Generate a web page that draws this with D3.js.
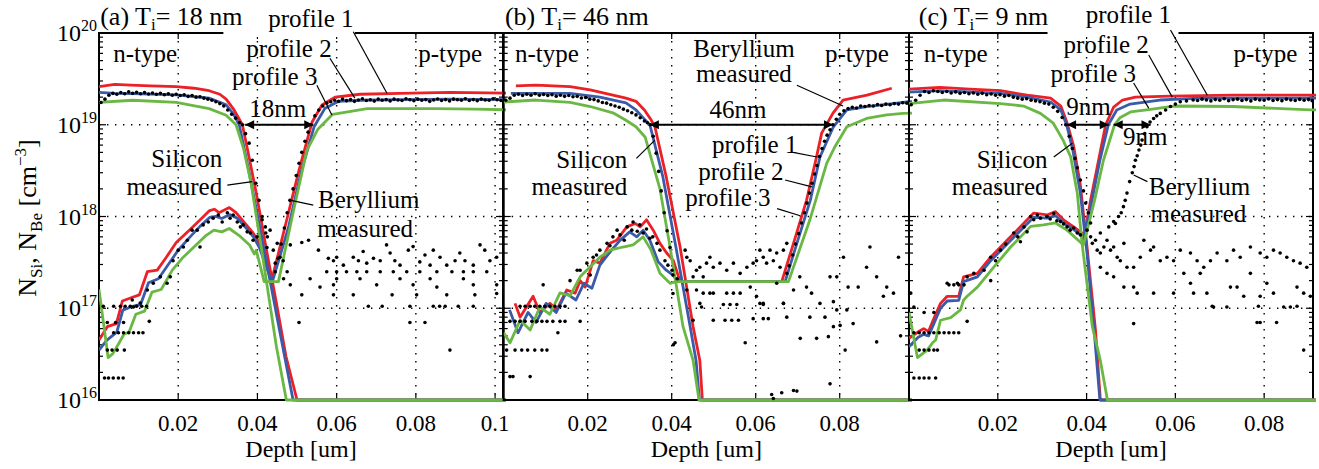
<!DOCTYPE html>
<html>
<head>
<meta charset="utf-8">
<script src="https://cdn.jsdelivr.net/npm/d3@7"></script>
<style>
  body { margin: 0; background: #fff; }
  text { font-family: "Liberation Serif", "Times New Roman", serif; fill: #000; }
</style>
</head>
<body>
<svg id="chart" width="1319" height="469" font-family="Liberation Serif, serif"></svg>
<script>
// ---------- axes ----------
const yTicks = [1e16, 1e17, 1e18, 1e19, 1e20];
const yTickExp = ["16", "17", "18", "19", "20"];
const xTicksA = [0.02, 0.04, 0.06, 0.08, 0.1];
const xTickLabelsA = ["0.02", "0.04", "0.06", "0.08", "0.1"];
const xTicksB = [0.02, 0.04, 0.06, 0.08];
const xTickLabelsB = ["0.02", "0.04", "0.06", "0.08"];
const xTicksC = [0.02, 0.04, 0.06, 0.08];
const xTickLabelsC = ["0.02", "0.04", "0.06", "0.08"];
const xMaxA = 0.102, xMaxB = 0.0965, xMaxC = 0.091;

// ---------- panel (a) Ti = 18 nm ----------
const siRedA = [[0,2.6e19],[0.004,2.75e19],[0.008,2.7e19],[0.013,2.65e19],[0.0195,2.6e19],[0.024,2.5e19],[0.0278,2.35e19],[0.0305,2.15e19],[0.0321,1.9e19],[0.0341,1.45e19],[0.0362,1e19],[0.038,4.2e18],[0.0397,1.8e18],[0.0422,4.5e17],[0.0447,1.2e17],[0.0472,3e16],[0.05,1e16],[0.105,1e16]];
const siBlueA = [[0,2.25e19],[0.004,2.2e19],[0.0085,2.18e19],[0.0195,2.12e19],[0.0278,1.95e19],[0.0321,1.65e19],[0.034,1.3e19],[0.0354,1e19],[0.0378,3.2e18],[0.0405,8e17],[0.043,2.2e17],[0.0455,6e16],[0.049,1e16],[0.105,1e16]];
const siGreenA = [[0,1.75e19],[0.0085,1.85e19],[0.0195,1.75e19],[0.0278,1.5e19],[0.0321,1.27e19],[0.0346,1e19],[0.0365,5.5e18],[0.0384,2.3e18],[0.041,4.5e17],[0.0448,3.8e16],[0.0473,1e16],[0.105,1e16]];
const beRedA = [[0,4.5e16],[0.0021,6.3e16],[0.0044,6.8e16],[0.0059,1.2e17],[0.0081,1.3e17],[0.0102,1.4e17],[0.0122,2.5e17],[0.0147,2.6e17],[0.017,3.6e17],[0.0195,5.2e17],[0.0228,7.1e17],[0.0253,9e17],[0.0278,1.15e18],[0.0291,1.2e18],[0.0303,1.1e18],[0.0329,1.25e18],[0.0346,1.1e18],[0.0372,8.1e17],[0.0387,6.8e17],[0.0404,5.3e17],[0.0437,2.1e17],[0.0472,8.5e17],[0.0505,3.2e18],[0.0538,1.07e19],[0.0563,1.64e19],[0.0596,2e19],[0.0659,2.15e19],[0.076,2.2e19],[0.0886,2.25e19],[0.105,2.2e19]];
const beBlueA = [[0,3.5e16],[0.002,4.5e16],[0.0045,5.5e16],[0.006,9.5e16],[0.0085,1.05e17],[0.0105,1.1e17],[0.0125,1.9e17],[0.015,2.1e17],[0.0175,3e17],[0.02,4.3e17],[0.023,6e17],[0.0255,7.8e17],[0.028,9.8e17],[0.0295,1e18],[0.031,9.5e17],[0.033,1.05e18],[0.035,9.5e17],[0.0375,7.2e17],[0.039,6e17],[0.0405,4.6e17],[0.0437,1.9e17],[0.0478,7.5e17],[0.051,3e18],[0.0543,9.5e18],[0.057,1.5e19],[0.0605,1.8e19],[0.066,1.85e19],[0.076,1.88e19],[0.089,1.9e19],[0.105,1.88e19]];
const beGreenA = [[0,1.6e17],[0.0023,2.9e16],[0.0035,3.2e16],[0.0051,4.2e16],[0.0063,5.2e16],[0.0076,5.5e16],[0.0093,8.6e16],[0.0115,9.3e16],[0.0134,1.5e17],[0.0157,1.6e17],[0.0185,2.6e17],[0.021,3.5e17],[0.0245,4.9e17],[0.027,6.2e17],[0.029,7.1e17],[0.031,6.8e17],[0.0329,7.4e17],[0.0354,6.2e17],[0.038,4.9e17],[0.0392,3.9e17],[0.0397,4.3e17],[0.0417,1.95e17],[0.0453,1.95e17],[0.049,1.1e18],[0.0525,5.3e18],[0.0553,9e18],[0.059,1.3e19],[0.0677,1.5e19],[0.085,1.5e19],[0.095,1.48e19],[0.105,1.45e19]];
const siMeasA = [[0.0005,1.75e19],[0.0015,1.9e19],[0.0025,2.1e19],[0.0035,2.2e19],[0.0045,2.15e19],[0.0055,2.25e19],[0.0065,2.18e19],[0.0075,2.28e19],[0.0085,2.2e19],[0.0095,2.26e19],[0.0105,2.18e19],[0.0115,2.24e19],[0.0125,2.16e19],[0.0135,2.22e19],[0.0145,2.15e19],[0.0155,2.2e19],[0.0165,2.12e19],[0.0175,2.18e19],[0.0185,2.1e19],[0.0195,2.15e19],[0.0205,2.08e19],[0.0215,2.12e19],[0.0225,2.04e19],[0.0235,2.08e19],[0.0245,2e19],[0.0255,2.02e19],[0.0265,1.95e19],[0.0275,1.9e19],[0.0285,1.85e19],[0.0295,1.78e19],[0.0305,1.7e19],[0.0315,1.6e19],[0.0325,1.45e19],[0.0335,1.3e19],[0.0345,1.18e19],[0.0355,1.06e19],[0.0362,1e19],[0.037,8e18],[0.0379,6.3e18],[0.0387,4.1e18],[0.0396,2.3e18],[0.0404,1.5e18],[0.0412,9.2e17],[0.0421,6.6e17],[0.0424,4.6e17]];
const beMeasA = [[0.0014,1.74e16],[0.0024,1.74e16],[0.0036,1.74e16],[0.0049,1.74e16],[0.0061,1.74e16],
  [0.0021,3.5e16],[0.0033,3.5e16],[0.0046,3.5e16],[0.0064,3.5e16],
  [0.0037,5.4e16],[0.0049,5.4e16],[0.0062,5.4e16],[0.0075,5.4e16],[0.0087,5.4e16],[0.01,5.4e16],[0.0111,5.4e16],
  [0.0021,7e16],[0.0042,7e16],[0.0062,7e16],[0.0127,7.2e16],
  [0.0011,1.05e17],[0.0037,1.05e17],[0.0054,1.05e17],[0.0066,1.05e17],[0.0079,1.05e17],[0.0095,1.05e17],[0.0108,1.05e17],[0.012,1.05e17],
  [0.0084,1.23e17],[0.0087,1.03e17],[0.0104,1.14e17],[0.0122,1.58e17],[0.0137,1.87e17],[0.0155,2.2e17],[0.0172,1.87e17],[0.018,2.2e17],[0.0187,3.3e17],[0.02,4.3e17],[0.0213,4.65e17],[0.0223,5.5e17],[0.0235,7.1e17],[0.0248,7.1e17],[0.0255,4.65e17],[0.0263,8.1e17],[0.0276,8.7e17],[0.0288,9.6e17],[0.0301,1.04e18],[0.0311,8.7e17],[0.0324,1.1e18],[0.0331,9.6e17],[0.0339,1.04e18],[0.0349,8.7e17],[0.0357,7.7e17],[0.0364,8.1e17],[0.0374,6.8e17],[0.0382,6.6e17],[0.0389,5.5e17],[0.0399,6e17],[0.0412,1e18],[0.042,7.7e17],[0.0425,6e17],[0.0432,7.1e17],[0.044,4.3e17],[0.0445,3.1e17],[0.045,5.1e17],[0.0457,3.6e17],[0.0465,3.3e17],
  [0.0445,2.5e17],[0.0452,3.5e17],[0.046,5e17],[0.0468,7.5e17],[0.0475,1.1e18],[0.0482,1.5e18],[0.049,2e18],[0.0498,2.8e18],[0.0505,3.8e18],[0.0512,5e18],[0.052,6.6e18],[0.0528,8.3e18],[0.0535,1e19],[0.0545,1.25e19],[0.0555,1.45e19],[0.0565,1.6e19],[0.0575,1.72e19],
  [0.0585,1.78e19],[0.0595,1.85e19],[0.0605,1.8e19],[0.0615,1.9e19],[0.0625,1.83e19],[0.0635,1.88e19],[0.0645,1.8e19],[0.0655,1.86e19],[0.0665,1.92e19],[0.0675,1.84e19],[0.0685,1.87e19],[0.0695,1.81e19],[0.0705,1.9e19],[0.0715,1.85e19],[0.0725,1.88e19],[0.0735,1.82e19],[0.0745,1.9e19],[0.0755,1.86e19],[0.0765,1.84e19],[0.0775,1.92e19],[0.0785,1.87e19],[0.0795,1.83e19],[0.0805,1.9e19],[0.0815,1.85e19],[0.0825,1.88e19],[0.0835,1.8e19],[0.0845,1.86e19],[0.0855,1.91e19],[0.0865,1.84e19],[0.0875,1.88e19],[0.0885,1.82e19],[0.0895,1.9e19],[0.0905,1.87e19],[0.0915,1.85e19],[0.0925,1.92e19],[0.0935,1.84e19],[0.0945,1.88e19],[0.0955,1.83e19],[0.0965,1.9e19],[0.0975,1.86e19],[0.0985,1.85e19],[0.0995,1.92e19],[0.1005,1.87e19],[0.1015,1.84e19]];
const noiseA = [[0.0483,4.9e17],[0.0512,5.2e17],[0.0529,5.5e17],[0.0554,4.3e17],[0.0579,3.5e17],[0.0592,3.3e17],[0.06,3.6e17],[0.0617,2.95e17],[0.0642,3.6e17],[0.0655,3.3e17],[0.0667,4.15e17],[0.0676,3.1e17],[0.0693,3.5e17],[0.071,3.3e17],[0.0726,4.9e17],[0.0735,4e17],[0.0747,3.3e17],[0.076,2.95e17],[0.0781,4.3e17],[0.0793,4.7e17],[0.081,3.2e17],[0.0823,3.8e17],[0.0836,2.95e17],[0.0844,4.3e17],[0.0861,3.6e17],[0.0878,2.95e17],[0.0899,3.3e17],[0.0911,4e17],[0.0924,3.3e17],[0.0945,2.95e17],[0.0962,4.9e17],[0.0974,4.3e17],[0.0987,3.3e17],[0.1004,3.6e17],
  [0.0475,2.5e17],[0.0575,2.5e17],[0.06,2.5e17],[0.0625,2.5e17],[0.0651,2.5e17],[0.0676,2.5e17],[0.071,2.5e17],[0.0743,2.5e17],[0.0777,2.5e17],[0.081,2.5e17],[0.0853,2.5e17],[0.0891,2.5e17],[0.092,2.5e17],[0.0945,2.5e17],[0.0979,2.5e17],
  [0.0466,2.1e17],[0.0533,2.1e17],[0.06,2.1e17],[0.0659,2.1e17],[0.076,2.1e17],[0.0836,2.1e17],[0.092,2.1e17],
  [0.0483,1.8e17],[0.0558,1.7e17],[0.0592,1.8e17],[0.0701,1.8e17],[0.0793,1.8e17],[0.0853,1.7e17],[0.0945,1.8e17],[0.1004,1.8e17],
  [0.0512,1.4e17],[0.0592,1.4e17],[0.0642,1.4e17],[0.074,1.4e17],[0.0802,1.4e17],[0.0878,1.4e17],[0.0949,1.4e17],[0.1004,1.45e17],
  [0.068,1.05e17],[0.0715,1.05e17],[0.0785,1.05e17],[0.0844,1.05e17],[0.086,1.05e17],[0.0874,1.05e17],[0.0907,1.05e17],[0.0945,1.05e17],
  [0.0505,7e16],[0.0785,7e16],[0.0823,7e16],[0.0886,3.5e16]];

// ---------- panel (b) Ti = 46 nm ----------
const siRedB = [[0.0029,2.65e19],[0.0077,2.7e19],[0.0158,2.6e19],[0.0206,2.4e19],[0.026,2.1e19],[0.0291,1.95e19],[0.0315,1.8e19],[0.0335,1.45e19],[0.035,1.15e19],[0.036,9.5e18],[0.0387,2.7e18],[0.042,4.65e17],[0.0451,6.3e16],[0.0467,2.7e16],[0.0473,1e16],[0.099,1e16]];
const siBlueB = [[0.0017,2.2e19],[0.0077,2.2e19],[0.0158,2.2e19],[0.0229,2e19],[0.0291,1.73e19],[0.0315,1.45e19],[0.0335,1.15e19],[0.0348,1e19],[0.0379,2.7e18],[0.041,4.65e17],[0.0444,6.3e16],[0.0458,2.7e16],[0.0466,1e16],[0.099,1e16]];
const siGreenB = [[0,1.77e19],[0.0077,1.86e19],[0.0158,1.75e19],[0.0206,1.58e19],[0.026,1.35e19],[0.0291,1.12e19],[0.0315,9.5e18],[0.0337,7.3e18],[0.0372,2e18],[0.0396,4.65e17],[0.0427,6.3e16],[0.0451,2.7e16],[0.0465,1e16],[0.099,1e16]];
const beRedB = [[0.0027,1.13e17],[0.0039,8e16],[0.007,1.35e17],[0.0086,9e16],[0.011,1.13e17],[0.0126,9.6e16],[0.015,1.58e17],[0.017,1.46e17],[0.0182,2e17],[0.0194,1.7e17],[0.0213,3.3e17],[0.0229,3.1e17],[0.0253,5.1e17],[0.0269,5.5e17],[0.0293,7.7e17],[0.0313,8.4e17],[0.0325,7.7e17],[0.034,9.2e17],[0.0356,7.1e17],[0.0372,5.1e17],[0.0388,4e17],[0.0404,3.3e17],[0.042,1.95e17],[0.0662,1.95e17],[0.069,5.1e17],[0.0721,1.5e18],[0.0745,4.5e18],[0.0757,8.1e18],[0.0784,1.34e19],[0.0808,1.86e19],[0.0865,2.1e19],[0.0924,2.5e19]];
const beBlueB = [[0.0014,9.6e16],[0.0034,5.4e16],[0.0058,9e16],[0.0077,7e16],[0.0101,1.13e17],[0.0125,9e16],[0.0148,1.46e17],[0.0172,1.23e17],[0.0191,1.87e17],[0.021,1.65e17],[0.0229,2.95e17],[0.0253,4.1e17],[0.0277,5.5e17],[0.03,6.8e17],[0.0317,6e17],[0.0332,7.1e17],[0.0348,5.5e17],[0.0368,3.2e17],[0.0387,2.6e17],[0.0403,2.3e17],[0.0415,1.95e17],[0.067,1.95e17],[0.0698,5.1e17],[0.073,1.5e18],[0.0753,4.45e18],[0.0785,9.5e18],[0.0817,1.45e19],[0.0864,1.58e19],[0.0927,1.7e19],[0.096,1.78e19],[0.099,1.8e19]];
const beGreenB = [[0,5.4e16],[0.0015,4.2e16],[0.0039,7.4e16],[0.0063,5.8e16],[0.0086,1.03e17],[0.011,8.6e16],[0.0134,1.47e17],[0.0158,1.37e17],[0.0182,2.2e17],[0.0229,3.6e17],[0.0253,4.3e17],[0.0284,4.65e17],[0.0308,4.9e17],[0.0332,6e17],[0.0351,4.3e17],[0.0372,2.4e17],[0.0396,1.87e17],[0.041,1.95e17],[0.0678,1.95e17],[0.0729,9.2e17],[0.0769,3.8e18],[0.0789,5.8e18],[0.0817,9.5e18],[0.0864,1.17e19],[0.0912,1.28e19],[0.0951,1.33e19],[0.099,1.35e19]];
const siMeasB = [[0.0005,1.85e19],[0.0015,1.95e19],[0.0025,2.1e19],[0.0035,2.15e19],[0.0045,2.08e19],[0.0055,2.15e19],[0.0065,2.1e19],[0.0075,2.18e19],[0.0085,2.1e19],[0.0095,2.14e19],[0.0105,2.08e19],[0.0115,2.12e19],[0.0125,2.05e19],[0.0135,2.1e19],[0.0145,2.04e19],[0.0155,2.08e19],[0.0165,2.02e19],[0.0175,2.04e19],[0.0185,1.96e19],[0.0195,1.98e19],[0.0205,1.9e19],[0.0215,1.88e19],[0.0225,1.82e19],[0.0235,1.75e19],[0.0245,1.72e19],[0.0255,1.65e19],[0.0265,1.6e19],[0.0275,1.55e19],[0.0285,1.48e19],[0.0295,1.42e19],[0.0305,1.35e19],[0.0315,1.28e19],[0.0325,1.19e19],[0.0335,1.1e19],[0.0342,1.05e19],[0.0349,1e19],[0.0356,7.5e18],[0.0363,4.9e18],[0.0369,3.1e18],[0.0375,1.9e18],[0.0382,1.1e18],[0.0389,7e17],[0.0396,4.6e17],[0.0403,1.45e17],[0.0408,4.2e16]];
const beMeasB = [[0.0015,1.8e16],[0.0022,1.8e16],[0.0063,1.8e16],
  [0.0007,3.5e16],[0.0027,3.5e16],[0.0043,3.5e16],[0.0057,3.5e16],[0.0074,3.5e16],[0.0091,3.5e16],[0.0103,3.5e16],
  [0.0015,7.2e16],[0.0027,7.2e16],[0.0039,7.2e16],[0.0051,7.2e16],[0.0067,7.2e16],[0.0079,7.2e16],[0.0091,7.2e16],[0.0103,7.2e16],[0.0117,7.2e16],[0.0134,7.2e16],
  [0.0039,1.05e17],[0.0051,1.05e17],[0.0063,1.05e17],[0.0074,1.05e17],[0.0086,1.05e17],[0.0098,1.05e17],[0.011,1.05e17],[0.0122,1.05e17],[0.0134,1.05e17],[0.0146,1.05e17],
  [0.0129,5.4e16],[0.0146,7.2e16],[0.0182,7.2e16],
  [0.0094,1.8e17],[0.0158,2e17],[0.0175,2.6e17],[0.0182,2.6e17],[0.0198,3.1e17],[0.0206,2.3e17],[0.0213,3.6e17],[0.0221,3.8e17],[0.0229,4.3e17],[0.0246,5.1e17],[0.0253,4.8e17],[0.026,6e17],[0.027,7.1e17],[0.0277,6.3e17],[0.0287,5.5e17],[0.0294,7.7e17],[0.0305,7.1e17],[0.0308,8.7e17],[0.0318,6.9e17],[0.0324,8.1e17],[0.0332,6.6e17],[0.034,7.3e17],[0.0348,5.8e17],[0.0355,6e17],[0.0365,5.1e17],[0.0372,4.3e17],[0.0384,3.3e17],[0.0391,2.95e17],[0.0401,2.6e17],[0.0403,2.3e17],[0.0413,2.1e17],
  [0.0674,2.4e17],[0.068,2.9e17],[0.0688,3.8e17],[0.0695,5e17],[0.0702,6.5e17],[0.0709,8.5e17],[0.0716,1.1e18],[0.0722,1.4e18],[0.0728,1.8e18],[0.0734,2.3e18],[0.074,2.9e18],[0.0746,3.6e18],[0.0752,4.5e18],[0.0758,5.5e18],[0.0764,6.6e18],[0.077,7.7e18],[0.0777,8.8e18],[0.0784,1e19],[0.0792,1.15e19],[0.08,1.3e19],
  [0.081,1.42e19],[0.082,1.5e19],[0.083,1.55e19],[0.084,1.52e19],[0.085,1.6e19],[0.086,1.58e19],[0.087,1.62e19],[0.088,1.6e19],[0.089,1.66e19],[0.09,1.62e19],[0.091,1.68e19],[0.092,1.65e19],[0.093,1.7e19],[0.094,1.68e19],[0.095,1.74e19],[0.096,1.72e19]];
const noiseB = [[0.0432,4.3e17],[0.0436,3.6e17],[0.0444,3.3e17],[0.0451,2.2e17],[0.0459,2.6e17],[0.0467,2.8e17],[0.0475,2.2e17],[0.0483,3.1e17],[0.0491,3.6e17],[0.0499,2.8e17],[0.0515,3.1e17],[0.0531,2.6e17],[0.0547,3.1e17],[0.0563,2.4e17],[0.0579,2.8e17],[0.0594,3.1e17],[0.0602,3.3e17],[0.061,4.3e17],[0.0618,3.6e17],[0.0626,3.1e17],[0.0634,4.3e17],[0.0642,3.3e17],[0.065,4e17],[0.0658,2.8e17],[0.0666,4.3e17],[0.0674,5.1e17],
  [0.0436,1.58e17],[0.0459,1.58e17],[0.0467,1.13e17],[0.0475,1.46e17],[0.0491,1.46e17],[0.0499,1.46e17],[0.0531,1.46e17],[0.0547,1.46e17],[0.0563,1.46e17],[0.0587,1.7e17],[0.0602,1.35e17],[0.0618,1.13e17],[0.065,1.87e17],[0.0666,1.13e17],[0.069,1.58e17],[0.0705,2.2e17],[0.0721,1.7e17],[0.0733,1.46e17],[0.0753,1.13e17],[0.0777,2.2e17],[0.0793,2.2e17],[0.0809,3.6e17],[0.082,1.7e17],[0.0844,1.7e17],[0.0864,2.8e17],[0.0872,4.65e17],[0.0888,2.2e17],[0.0904,1.35e17],[0.0912,1.7e17],[0.0928,1.46e17],[0.094,3.6e17],
  [0.0471,1.03e17],[0.0523,1.1e17],[0.0539,1.1e17],[0.0555,1.1e17],[0.061,1.13e17],[0.0618,1.1e17],[0.0666,1.13e17],[0.0785,1.18e17],[0.0793,9.6e16],[0.0817,9.6e16],
  [0.0451,7.4e16],[0.0499,7.4e16],[0.0527,7.4e16],[0.0543,7.4e16],[0.0559,7.4e16],[0.0594,7.7e16],[0.0618,7.7e16],[0.063,7.7e16],[0.0674,8e16],[0.0729,8e16],[0.0765,8e16],[0.0785,6.3e16],[0.0801,6.5e16],[0.0832,6.8e16],
  [0.0575,4.2e16],[0.0706,4.7e16],[0.0745,4.7e16],[0.0773,4.9e16],[0.0813,3.5e16],[0.0888,4.3e16],[0.0945,5e16],[0.0404,4e16],
  [0.0777,1.5e16],[0.0638,1.15e16],[0.0662,1.2e16],[0.069,1.27e16],[0.0698,1.25e16],[0.0642,1.04e16]];

// ---------- panel (c) Ti = 9 nm ----------
const siRedC = [[0,2.45e19],[0.007,2.55e19],[0.0137,2.45e19],[0.0206,2.35e19],[0.0266,2.1e19],[0.0319,1.95e19],[0.0342,1.6e19],[0.0356,1.05e19],[0.0371,5.8e18],[0.0386,2.2e18],[0.0401,4.65e17],[0.042,5.8e16],[0.0431,1e16],[0.093,1e16]];
const siBlueC = [[0,2.27e19],[0.007,2.35e19],[0.0206,2.2e19],[0.0266,2e19],[0.0319,1.77e19],[0.0342,1.45e19],[0.0355,1e19],[0.0369,5.3e18],[0.0386,1.8e18],[0.0401,4e17],[0.0418,5e16],[0.043,1e16],[0.093,1e16]];
const siGreenC = [[0,1.7e19],[0.0078,1.86e19],[0.0206,1.7e19],[0.0258,1.6e19],[0.0296,1.33e19],[0.0325,1.04e19],[0.0347,6.8e18],[0.0364,4.5e18],[0.0379,1.8e18],[0.039,5e17],[0.0413,6.3e16],[0.0431,2.7e16],[0.0447,1e16],[0.093,1e16]];
const beRedC = [[0,4.7e16],[0.002,5.5e16],[0.0033,6e16],[0.0044,5.6e16],[0.0056,7.7e16],[0.0071,1.13e17],[0.0086,1.35e17],[0.0112,1.35e17],[0.0123,2.2e17],[0.0154,2.4e17],[0.0184,3.6e17],[0.0221,5.5e17],[0.0258,8.4e17],[0.0281,1.09e18],[0.0311,1.04e18],[0.033,1.13e18],[0.0348,9.2e17],[0.0371,7.7e17],[0.039,6.6e17],[0.0393,5.5e17],[0.0409,1.5e18],[0.0427,4.1e18],[0.0443,1e19],[0.0461,1.56e19],[0.0481,1.86e19],[0.051,2e19],[0.0589,2.05e19],[0.073,2.1e19],[0.093,2.1e19]];
const beBlueC = [[0,3.8e16],[0.002,4.8e16],[0.0033,5.2e16],[0.0044,5e16],[0.0056,6.8e16],[0.0071,1e17],[0.0086,1.2e17],[0.0112,1.22e17],[0.0123,1.95e17],[0.0154,2.2e17],[0.0184,3.3e17],[0.0221,5e17],[0.0258,7.6e17],[0.0281,9.8e17],[0.0311,9.6e17],[0.033,1.02e18],[0.0348,8.5e17],[0.0371,7.2e17],[0.039,6.2e17],[0.0393,5.5e17],[0.0412,1.5e18],[0.043,4.1e18],[0.0449,1e19],[0.0468,1.45e19],[0.0498,1.68e19],[0.0565,1.86e19],[0.0655,1.95e19],[0.093,1.95e19]];
const beGreenC = [[0,9e16],[0.0019,2.9e16],[0.0041,3.5e16],[0.0053,4.2e16],[0.006,4.5e16],[0.0071,7.4e16],[0.0094,7.9e16],[0.0116,9.6e16],[0.0123,1.23e17],[0.0131,1.35e17],[0.0154,1.7e17],[0.0191,2.8e17],[0.0229,4.65e17],[0.0274,7.8e17],[0.0303,8.1e17],[0.033,8.5e17],[0.0356,7.1e17],[0.0393,4.9e17],[0.0418,1.5e18],[0.0438,4.1e18],[0.0463,1e19],[0.0476,1.2e19],[0.0499,1.38e19],[0.0544,1.47e19],[0.0596,1.6e19],[0.073,1.58e19],[0.0904,1.45e19],[0.093,1.45e19]];
const siMeasC = [[0.0005,1.65e19],[0.0015,1.85e19],[0.0025,2.1e19],[0.0035,2.3e19],[0.0045,2.25e19],[0.0055,2.35e19],[0.0065,2.3e19],[0.0075,2.25e19],[0.0085,2.3e19],[0.0095,2.22e19],[0.0105,2.28e19],[0.0115,2.2e19],[0.0125,2.25e19],[0.0135,2.18e19],[0.0145,2.22e19],[0.0155,2.15e19],[0.0165,2.2e19],[0.0175,2.12e19],[0.0185,2.16e19],[0.0195,2.1e19],[0.0205,2.12e19],[0.0215,2.05e19],[0.0225,2.08e19],[0.0235,2e19],[0.0245,1.95e19],[0.0255,1.9e19],[0.0265,1.92e19],[0.0275,1.85e19],[0.0285,1.82e19],[0.0295,1.78e19],[0.0305,1.72e19],[0.0315,1.68e19],[0.0325,1.55e19],[0.0335,1.4e19],[0.0345,1.2e19],[0.0353,1e19],[0.0361,7.5e18],[0.0368,5.5e18],[0.0374,4.3e18],[0.0379,3.4e18],[0.0386,2.5e18],[0.0393,1.9e18],[0.0398,1.4e18],[0.0404,1.1e18],[0.0409,8.5e17]];
const beMeasC = [[0.0011,1.74e16],[0.0023,1.74e16],[0.0034,1.74e16],[0.0045,1.74e16],[0.006,1.74e16],
  [0.0023,3.5e16],[0.0034,3.5e16],[0.0045,3.5e16],[0.0056,3.5e16],[0.0064,3.5e16],
  [0.0011,5.4e16],[0.0023,5.4e16],[0.0034,5.4e16],[0.0045,5.4e16],[0.0056,5.4e16],[0.0068,5.4e16],[0.0079,5.4e16],[0.009,5.4e16],[0.0101,5.4e16],[0.0112,5.4e16],
  [0.0034,9e16],[0.0056,9e16],[0.0131,7.2e16],[0.0004,1.46e17],[0.0011,1.03e17],
  [0.009,1.8e17],[0.0101,1.8e17],[0.0112,1.8e17],[0.0124,1.8e17],
  [0.0086,1.87e17],[0.0109,1.87e17],[0.0131,2.2e17],[0.0146,2.4e17],[0.0169,2.6e17],[0.0184,3.6e17],[0.0184,2e17],[0.0195,3.3e17],[0.0206,4.3e17],[0.0218,5e17],[0.0236,6.6e17],[0.0245,6e17],[0.0251,5.3e17],[0.0259,7.7e17],[0.0266,6.8e17],[0.0274,1e18],[0.0281,9.2e17],[0.0289,1.04e18],[0.0296,9.6e17],[0.0311,1e18],[0.0318,9.4e17],[0.0326,1.08e18],[0.0333,9e17],[0.0341,8.8e17],[0.0348,8.3e17],[0.0356,7.7e17],[0.0363,7.1e17],[0.0371,7.5e17],[0.0379,6.6e17],[0.0386,6.3e17],
  [0.0431,6.6e17],[0.045,7.7e17],[0.0461,8.8e17],[0.0465,8.4e17],[0.0472,1e18],[0.0478,1.1e18],[0.0483,1.28e18],[0.0487,1.5e18],[0.0491,1.8e18],[0.0497,2.4e18],[0.0503,3e18],[0.0507,3.5e18],[0.051,4.1e18],[0.0514,4.6e18],[0.0518,5.3e18],[0.0522,6e18],[0.0525,6.8e18],[0.0531,8e18],[0.0536,9.5e18],[0.0543,1.07e19],[0.0551,1.17e19],[0.0558,1.25e19],[0.0566,1.33e19],[0.0578,1.45e19],[0.0589,1.58e19],[0.06,1.68e19],[0.0611,1.78e19],[0.0625,1.82e19],[0.064,1.86e19],
  [0.065,1.84e19],[0.066,1.9e19],[0.067,1.86e19],[0.068,1.82e19],[0.069,1.88e19],[0.07,1.85e19],[0.071,1.92e19],[0.072,1.83e19],[0.073,1.87e19],[0.074,1.9e19],[0.075,1.84e19],[0.076,1.88e19],[0.077,1.82e19],[0.078,1.9e19],[0.079,1.86e19],[0.08,1.85e19],[0.081,1.91e19],[0.082,1.84e19],[0.083,1.88e19],[0.084,1.83e19],[0.085,1.9e19],[0.086,1.86e19],[0.087,1.84e19],[0.088,1.89e19],[0.089,1.85e19],[0.09,1.88e19],[0.0908,1.83e19]];
const noiseC = [[0.0401,7.1e17],[0.0409,6e17],[0.0413,5.1e17],[0.042,5.5e17],[0.0424,4.3e17],[0.0431,4e17],[0.0439,4.65e17],[0.0446,5.5e17],[0.0454,4.3e17],[0.0461,4.65e17],[0.0469,3.6e17],[0.0476,3.3e17],[0.0484,5.1e17],[0.0491,2.8e17],[0.0506,2.8e17],[0.0521,3.6e17],[0.0529,5.5e17],[0.0544,4.3e17],[0.0551,4.65e17],[0.0566,3.3e17],[0.0581,3.6e17],[0.0596,3.3e17],[0.0611,4.3e17],[0.0634,4e17],[0.0649,3.3e17],[0.0664,2.8e17],[0.0679,3.3e17],[0.0694,4e17],[0.0716,3.3e17],[0.0731,4.3e17],[0.0746,3.6e17],[0.0769,4.65e17],[0.0791,4e17],[0.0806,3.6e17],[0.0821,4.3e17],[0.0836,4e17],[0.0851,3.6e17],[0.0866,3.3e17],[0.0881,3.1e17],[0.0896,2.8e17],
  [0.0431,2.8e17],[0.0446,2.4e17],[0.0461,2.2e17],[0.0484,1.7e17],[0.0506,1.7e17],[0.0514,1.46e17],[0.0551,1.46e17],[0.0596,1.46e17],[0.0619,2.4e17],[0.0634,1.87e17],[0.0641,1.46e17],[0.0656,2.4e17],[0.0671,1.46e17],[0.0686,1.03e17],[0.0716,1.03e17],[0.0724,1.7e17],[0.0739,1.7e17],[0.0754,1.35e17],[0.0769,2.4e17],[0.0791,1.35e17],[0.0806,1.87e17],[0.0821,1.46e17],[0.0844,1.03e17],[0.0859,1.03e17],[0.0874,1.7e17],[0.0889,1.46e17],[0.0904,1.35e17],
  [0.0506,6.8e16],[0.0683,1.05e17],[0.0787,1.05e17],[0.0874,1.05e17],[0.0784,7e16],[0.0791,7e16],[0.0828,7e16],[0.0889,3.5e16]];

// ---------- annotations (data coordinates) ----------
const labelsA = [
  { t: "n-type", x: 0.0036, y: 4.8e19, a: "start" },
  { t: "p-type", x: 0.0806, y: 4.8e19, a: "start" },
  { t: "profile 1", x: 0.0427, y: 1.16e20, a: "start" },
  { t: "profile 2", x: 0.0372, y: 5.5e19, a: "start" },
  { t: "profile 3", x: 0.0336, y: 2.7e19, a: "start" },
  { t: "18nm", x: 0.0451, y: 1.21e19, a: "middle" },
  { t: "Silicon", x: 0.0311, y: 3.46e18, a: "end" },
  { t: "measured", x: 0.0311, y: 1.71e18, a: "end" },
  { t: "Beryllium", x: 0.0553, y: 1.24e18, a: "start" },
  { t: "measured", x: 0.0551, y: 6e17, a: "start" }
];
const leadersA = [[0.0642, 1.03e20, 0.0727, 2.2e19], [0.0583, 5.3e19, 0.0646, 1.95e19], [0.055, 2.7e19, 0.0588, 1.28e19], [0.0324, 2.2e18, 0.0387, 2.4e18], [0.0541, 1.33e18, 0.0482, 1.51e18]];
const arrowsA = [[0.0369, 0.0541, 1e19]];
const gapsA = [[0.0314, 0.0646]];

const labelsB = [
  { t: "n-type", x: 0.0027, y: 4.8e19, a: "start" },
  { t: "p-type", x: 0.0765, y: 4.8e19, a: "start" },
  { t: "Beryllium", x: 0.0572, y: 5.5e19, a: "middle" },
  { t: "measured", x: 0.0572, y: 2.9e19, a: "middle" },
  { t: "46nm", x: 0.0558, y: 1.19e19, a: "middle" },
  { t: "profile 1", x: 0.0496, y: 4.9e18, a: "start" },
  { t: "profile 2", x: 0.0463, y: 2.5e18, a: "start" },
  { t: "profile 3", x: 0.0432, y: 1.3e18, a: "start" },
  { t: "Silicon", x: 0.0294, y: 3.4e18, a: "end" },
  { t: "measured", x: 0.0294, y: 1.71e18, a: "end" }
];
const leadersB = [[0.0698, 2.7e19, 0.0808, 1.6e19], [0.0689, 5e18, 0.0746, 4.45e18], [0.067, 2.5e18, 0.0734, 2.1e18], [0.0651, 1.22e18, 0.0706, 1.02e18], [0.0316, 4.3e18, 0.036, 6.8e18]];
const arrowsB = [[0.0348, 0.0784, 1e19]];
const gapsB = [];

const labelsC = [
  { t: "n-type", x: 0.0033, y: 4.8e19, a: "start" },
  { t: "p-type", x: 0.0731, y: 4.8e19, a: "start" },
  { t: "profile 1", x: 0.0398, y: 1.28e20, a: "start" },
  { t: "profile 2", x: 0.0348, y: 6.05e19, a: "start" },
  { t: "profile 3", x: 0.0319, y: 2.9e19, a: "start" },
  { t: "9nm", x: 0.0404, y: 1.28e19, a: "middle" },
  { t: "9nm", x: 0.0532, y: 6e18, a: "middle" },
  { t: "Silicon", x: 0.0312, y: 3.4e18, a: "end" },
  { t: "measured", x: 0.0312, y: 1.71e18, a: "end" },
  { t: "Beryllium", x: 0.054, y: 1.71e18, a: "start" },
  { t: "measured", x: 0.0544, y: 8.7e17, a: "start" }
];
const leadersC = [[0.0589, 1.08e20, 0.0672, 2.1e19], [0.054, 5.75e19, 0.0593, 2e19], [0.0506, 2.85e19, 0.054, 1.52e19], [0.0326, 4.45e18, 0.0368, 6.3e18], [0.0537, 2.4e18, 0.0506, 2.83e18]];
const arrowsC = [[0.0356, 0.045, 1e19], [0.0461, 0.0544, 1e19]];
const gapsC = [[0.0312, 0.0607]];

// ---------- drawing ----------
const width = 1319, height = 469;
const yTop = 33, yBottom = 400;
const colors = ["#ec2027", "#3b5ba9", "#6ab843"];

const panels = [
  { key: "a", left: 99, right: 503, xMax: xMaxA, ticks: xTicksA, tickLabels: xTickLabelsA, title: ["(a) T", "i", "= 18 nm"], titleX: 0.0003,
    si: [siRedA, siBlueA, siGreenA], be: [beRedA, beBlueA, beGreenA], dots: siMeasA.concat(beMeasA, noiseA),
    labels: labelsA, leaders: leadersA, arrows: arrowsA, gaps: gapsA },
  { key: "b", left: 503.7, right: 909, xMax: xMaxB, ticks: xTicksB, tickLabels: xTickLabelsB, title: ["(b) T", "i", "= 46 nm"], titleX: 0.0003,
    si: [siRedB, siBlueB, siGreenB], be: [beRedB, beBlueB, beGreenB], dots: siMeasB.concat(beMeasB, noiseB),
    labels: labelsB, leaders: leadersB, arrows: arrowsB, gaps: gapsB },
  { key: "c", left: 909, right: 1313, xMax: xMaxC, ticks: xTicksC, tickLabels: xTickLabelsC, title: ["(c) T", "i", "= 9 nm"], titleX: 0.0022,
    si: [siRedC, siBlueC, siGreenC], be: [beRedC, beBlueC, beGreenC], dots: siMeasC.concat(beMeasC, noiseC),
    labels: labelsC, leaders: leadersC, arrows: arrowsC, gaps: gapsC }
];

const svg = d3.select("#chart").attr("viewBox", `0 0 ${width} ${height}`);
const defs = svg.append("defs");
defs.append("marker")
    .attr("id", "arrowHead")
    .attr("viewBox", "0 0 10 10")
    .attr("refX", 10).attr("refY", 5)
    .attr("markerWidth", 11).attr("markerHeight", 9)
    .attr("markerUnits", "userSpaceOnUse")
    .attr("orient", "auto-start-reverse")
  .append("path")
    .attr("d", "M0,0L10,5L0,10z")
    .attr("fill", "#000");

const drawPanel = (p) => {
    const x = d3.scaleLinear().domain([0, p.xMax]).range([p.left, p.right]);
    const y = d3.scaleLog().domain([1e16, 1e20]).range([yBottom, yTop]);
    const g = svg.append("g").attr("class", "panel-" + p.key);

    // dotted grid
    g.selectAll(".vgrid")
      .data(p.ticks)
      .join("line")
        .attr("class", "vgrid")
        .attr("x1", d => x(d)).attr("x2", d => x(d))
        .attr("y1", yTop).attr("y2", yBottom)
        .attr("stroke", "#000").attr("stroke-width", 1.4)
        .attr("stroke-dasharray", "1.4,6.6");
    g.selectAll(".hgrid")
      .data(yTicks.slice(1, 4))
      .join("line")
        .attr("class", "hgrid")
        .attr("x1", p.left).attr("x2", p.right)
        .attr("y1", d => y(d)).attr("y2", d => y(d))
        .attr("stroke", "#000").attr("stroke-width", 1.4)
        .attr("stroke-dasharray", "1.4,6.6");

    // frame
    g.append("rect")
        .attr("x", p.left).attr("y", yTop)
        .attr("width", p.right - p.left).attr("height", yBottom - yTop)
        .attr("fill", "none").attr("stroke", "#000").attr("stroke-width", 2);

    // y ticks (minor + major) on both sides
    const yt = y.ticks();
    g.selectAll(".ytick")
      .data(yt.flatMap(d => [[d, p.left, 1], [d, p.right, -1]]))
      .join("line")
        .attr("x1", d => d[1])
        .attr("x2", d => d[1] + d[2] * (yTicks.includes(d[0]) ? 7 : 4))
        .attr("y1", d => y(d[0])).attr("y2", d => y(d[0]))
        .attr("stroke", "#000").attr("stroke-width", 1.2);
    // x ticks top and bottom
    g.selectAll(".xtick")
      .data(p.ticks.flatMap(d => [[d, yBottom, -1], [d, yTop, 1]]))
      .join("line")
        .attr("x1", d => x(d[0])).attr("x2", d => x(d[0]))
        .attr("y1", d => d[1]).attr("y2", d => d[1] + d[2] * 6)
        .attr("stroke", "#000").attr("stroke-width", 1.2);

    // curves and measured points
    defs.append("clipPath").attr("id", "clip-" + p.key)
      .append("rect")
        .attr("x", p.left).attr("y", yTop - 2)
        .attr("width", p.right - p.left + 3).attr("height", yBottom - yTop + 4);
    const plot = g.append("g").attr("clip-path", `url(#clip-${p.key})`);
    const line = d3.line().x(d => x(d[0])).y(d => y(d[1]));
    [0, 1, 2].forEach(k => {
        [p.si[k], p.be[k]].forEach(series => {
            plot.append("path")
                .datum(series)
                .attr("d", line)
                .attr("fill", "none")
                .attr("stroke", colors[k])
                .attr("stroke-width", 2.8)
                .attr("stroke-linejoin", "round");
        });
    });
    plot.selectAll("circle")
      .data(p.dots)
      .join("circle")
        .attr("cx", d => x(d[0]))
        .attr("cy", d => y(d[1]))
        .attr("r", 1.8)
        .attr("fill", "#000");

    // white gaps in top border behind labels
    g.selectAll(".gap")
      .data(p.gaps)
      .join("rect")
        .attr("x", d => x(d[0])).attr("width", d => x(d[1]) - x(d[0]))
        .attr("y", yTop - 4).attr("height", 8)
        .attr("fill", "#fff");

    // x tick labels
    g.selectAll(".xlabel")
      .data(p.ticks)
      .join("text")
        .attr("x", d => x(d)).attr("y", 431)
        .attr("text-anchor", "middle")
        .style("font-size", "23px")
        .text((d, i) => p.tickLabels[i]);

    g.append("text")
        .attr("x", (p.left + p.right) / 2).attr("y", 457)
        .attr("text-anchor", "middle")
        .style("font-size", "24px")
        .text("Depth [um]");

    // title
    const title = g.append("text")
        .attr("x", x(p.titleX)).attr("y", y(1.22e20))
        .style("font-size", "26px");
    title.append("tspan").text(p.title[0]);
    title.append("tspan").attr("dy", 5).style("font-size", "17px").text(p.title[1]);
    title.append("tspan").attr("dy", -5).text(p.title[2]);

    // leader lines
    g.selectAll(".leader")
      .data(p.leaders)
      .join("line")
        .attr("x1", d => x(d[0])).attr("y1", d => y(d[1]))
        .attr("x2", d => x(d[2])).attr("y2", d => y(d[3]))
        .attr("stroke", "#000").attr("stroke-width", 1.2);

    // double arrows
    g.selectAll(".arrow")
      .data(p.arrows)
      .join("line")
        .attr("x1", d => x(d[0])).attr("x2", d => x(d[1]))
        .attr("y1", d => y(d[2])).attr("y2", d => y(d[2]))
        .attr("stroke", "#000").attr("stroke-width", 2)
        .attr("marker-start", "url(#arrowHead)")
        .attr("marker-end", "url(#arrowHead)");

    // text labels
    g.selectAll(".label")
      .data(p.labels)
      .join("text")
        .attr("x", d => x(d.x)).attr("y", d => y(d.y))
        .attr("text-anchor", d => d.a)
        .style("font-size", "25px")
        .text(d => d.t);

    return { x, y };
};

const scalesA = panels.map(drawPanel)[0];

// y tick labels (left panel only)
const yLab = svg.append("g").selectAll("text")
  .data(yTicks)
  .join("text")
    .attr("x", 97)
    .attr("y", d => scalesA.y(d) + 8)
    .attr("text-anchor", "end")
    .style("font-size", "24px");
yLab.append("tspan").text("10");
yLab.append("tspan").attr("dy", -10).style("font-size", "16px").text((d, i) => yTickExp[i]);

// y axis title
const yTitle = svg.append("text")
    .attr("transform", "translate(36, 218) rotate(-90)")
    .attr("text-anchor", "middle")
    .style("font-size", "26px");
yTitle.append("tspan").text("N");
yTitle.append("tspan").attr("dy", 6).style("font-size", "17px").text("Si");
yTitle.append("tspan").attr("dy", -6).text(", N");
yTitle.append("tspan").attr("dy", 6).style("font-size", "17px").text("Be");
yTitle.append("tspan").attr("dy", -6).text(" [cm");
yTitle.append("tspan").attr("dy", -10).style("font-size", "17px").text("\u22123");
yTitle.append("tspan").attr("dy", 10).text("]");
</script>
</body>
</html>
